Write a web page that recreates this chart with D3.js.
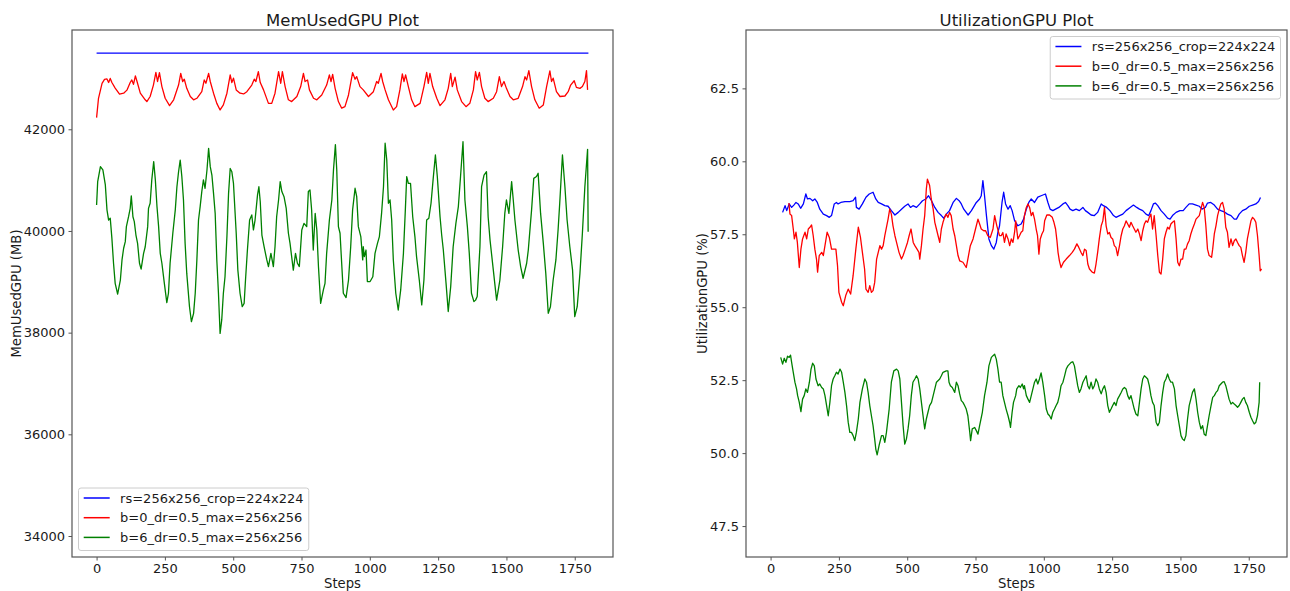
<!DOCTYPE html>
<meta charset="utf-8">
<style>
body { margin: 0; background: #fff; }
svg text { font-family: "DejaVu Sans", sans-serif; fill: #1a1a1a; }
.axis text { font-size: 13px; }
.axis line { stroke: #555; stroke-width: 1; }
.axis .domain { display: none; }
.frame { fill: none; stroke: #555; stroke-width: 1.2; }
.title { font-size: 16.5px; text-anchor: middle; }
.label { font-size: 13.2px; text-anchor: middle; }
.legend text { font-size: 13px; }
.series { fill: none; stroke-width: 1.3; stroke-linejoin: round; }
</style>
<svg width="1290" height="591"></svg>
<script src="https://d3js.org/d3.v7.min.js"></script>
<script>

var seriesNames = ["rs=256x256_crop=224x224", "b=0_dr=0.5_max=256x256", "b=6_dr=0.5_max=256x256"];
var seriesColors = ["#0000ff", "#ff0000", "#008000"];

var stepTicks = [0, 250, 500, 750, 1000, 1250, 1500, 1750];
var memTicks = [34000, 36000, 38000, 40000, 42000];
var utilTicks = [47.5, 50, 52.5, 55, 57.5, 60, 62.5];

// MemUsedGPU (MB) : [step, value]
var memBlue = [[0,43500],[1800,43500]];

var memRed = [[0,42230],[7,42610],[20,42905],[29,42980],[38,42990],[44,42920],[50,43000],[56,42920],[68,42810],[84,42690],[99,42710],[111,42770],[123,42920],[129,42970],[135,42885],[142,43050],[148,42940],[160,42710],[178,42580],[184,42545],[196,42645],[208,42870],[217,43120],[223,42940],[230,43115],[239,42840],[251,42610],[267,42465],[282,42580],[300,42870],[308,43100],[315,42940],[321,42985],[330,42805],[343,42645],[355,42580],[367,42610],[385,42740],[394,42970],[400,42905],[410,43100],[416,42940],[428,42710],[440,42510],[452,42380],[464,42480],[477,42710],[489,43070],[495,42920],[501,43005],[511,42775],[525,42710],[538,42695],[550,42740],[568,42870],[577,42985],[583,42940],[592,43135],[599,42920],[611,42775],[629,42510],[641,42510],[653,42710],[666,43135],[674,42905],[680,43135],[690,42840],[702,42580],[714,42545],[733,42645],[747,42840],[757,43100],[763,42940],[772,42970],[779,42775],[794,42610],[806,42580],[824,42675],[842,42870],[852,43070],[858,42940],[864,43080],[873,42805],[885,42545],[897,42415],[909,42445],[922,42675],[937,43115],[946,42985],[952,43035],[964,42840],[976,42775],[995,42645],[1013,42740],[1025,42940],[1031,42905],[1041,43100],[1047,42940],[1056,42775],[1068,42580],[1086,42380],[1098,42445],[1110,42775],[1119,43090],[1125,42940],[1131,43070],[1141,42840],[1153,42580],[1165,42445],[1184,42510],[1198,42840],[1208,43120],[1214,42905],[1220,43100],[1230,42840],[1245,42610],[1257,42465],[1275,42580],[1287,42805],[1296,43100],[1302,42840],[1312,43025],[1320,42775],[1336,42545],[1352,42445],[1366,42510],[1379,42775],[1387,43135],[1393,42970],[1401,43120],[1409,42840],[1421,42610],[1433,42545],[1452,42610],[1464,42740],[1474,43035],[1482,42840],[1491,42940],[1500,42805],[1513,42645],[1525,42580],[1543,42610],[1559,42840],[1568,43035],[1574,42970],[1582,43155],[1592,42840],[1604,42580],[1620,42415],[1635,42480],[1647,42840],[1659,43150],[1665,42940],[1671,43005],[1683,42740],[1696,42645],[1714,42655],[1726,42740],[1735,42870],[1748,42955],[1756,42825],[1769,42805],[1778,42840],[1787,42940],[1793,43155],[1797,42775]];

var memGreen = [[0,40510],[4,40970],[14,41265],[23,41200],[32,40905],[38,40415],[44,40215],[50,40250],[56,39855],[62,39365],[68,38970],[77,38760],[87,39035],[93,39430],[99,39660],[105,39790],[109,40085],[117,40280],[123,40445],[127,40690],[133,40280],[138,40185],[144,39920],[150,39755],[157,39365],[163,39250],[172,39560],[178,39690],[187,40085],[190,40445],[196,40545],[202,41005],[209,41365],[215,41005],[221,40480],[227,40085],[233,39560],[239,39365],[248,38970],[257,38590],[263,38775],[269,39365],[279,39955],[288,40415],[294,40870],[300,41165],[306,41395],[312,41070],[318,40610],[324,39755],[330,39165],[340,38510],[347,38215],[355,38380],[361,38775],[367,39430],[373,40215],[379,40480],[385,40775],[391,41005],[397,40840],[404,41200],[410,41625],[416,41265],[422,41100],[428,40740],[434,40345],[440,39430],[446,38775],[452,37985],[458,38250],[464,38775],[470,39100],[477,39890],[483,40740],[489,41230],[495,41165],[501,40935],[511,39955],[517,39230],[525,38775],[533,38510],[540,38575],[545,39035],[552,39625],[560,40215],[568,40315],[574,40020],[580,40215],[589,40710],[594,40870],[599,40575],[605,39920],[613,39690],[623,39430],[629,39300],[638,39560],[647,39300],[653,39690],[659,40280],[666,40610],[672,40970],[678,40775],[686,40675],[694,40445],[702,39955],[708,39755],[720,39230],[728,39560],[735,39365],[742,39300],[751,40020],[759,40150],[769,40085],[775,40775],[781,40805],[787,40415],[793,39625],[800,40345],[806,40020],[812,39300],[820,38575],[830,38840],[836,38970],[842,39560],[852,40215],[861,40610],[867,41200],[874,41700],[879,41200],[885,40085],[891,39955],[897,39365],[903,38775],[913,38690],[922,39035],[930,39690],[937,40415],[946,40840],[952,40675],[958,40085],[967,39890],[974,39430],[976,39690],[980,39495],[986,39625],[991,39005],[1001,39005],[1011,39100],[1019,39560],[1028,39755],[1035,39890],[1043,40345],[1050,40870],[1056,41725],[1062,41395],[1068,40545],[1074,40610],[1080,40215],[1086,39430],[1095,38775],[1104,38445],[1113,38840],[1123,39560],[1130,40415],[1135,41070],[1141,40935],[1149,40935],[1157,40280],[1165,39890],[1171,39495],[1181,39035],[1190,38545],[1198,39035],[1208,40215],[1216,40250],[1224,40545],[1232,41035],[1240,41495],[1247,41070],[1257,40280],[1263,39920],[1269,39625],[1279,38970],[1287,38415],[1296,38905],[1305,39690],[1315,40150],[1324,40480],[1332,41070],[1341,41755],[1348,40610],[1357,40085],[1364,39560],[1372,38775],[1381,38610],[1387,38640],[1393,38710],[1403,39690],[1409,40870],[1418,41100],[1427,41165],[1433,40280],[1440,39820],[1452,39230],[1464,38640],[1476,39035],[1486,39690],[1494,40345],[1500,40610],[1509,40345],[1519,40970],[1525,40610],[1531,40215],[1543,39625],[1552,39300],[1561,39070],[1574,39365],[1580,39625],[1592,40415],[1600,41035],[1610,41070],[1616,41135],[1625,40345],[1635,39755],[1644,39165],[1653,38380],[1661,38510],[1671,39035],[1681,39430],[1689,40020],[1695,40545],[1705,41495],[1714,40870],[1722,40215],[1732,39690],[1742,39230],[1750,38315],[1759,38510],[1769,39165],[1778,39955],[1787,40870],[1797,41605],[1799,39985]];

// UtilizationGPU (%) : [step, value]
var utilBlue = [[44,58.25],[53,58.48],[59,58.31],[68,58.54],[77,58.42],[85,58.50],[93,58.59],[101,58.54],[110,58.39],[120,58.54],[129,58.88],[135,58.71],[144,58.73],[154,58.65],[162,58.71],[171,58.59],[180,58.36],[193,58.19],[205,58.14],[215,58.08],[223,58.14],[233,58.54],[241,58.59],[247,58.54],[257,58.59],[272,58.62],[290,58.62],[302,58.65],[311,58.77],[314,58.42],[324,58.36],[336,58.54],[349,58.77],[361,58.88],[375,58.94],[385,58.71],[394,58.59],[406,58.54],[418,58.48],[430,58.46],[442,58.31],[455,58.16],[467,58.25],[479,58.36],[491,58.46],[503,58.54],[512,58.42],[521,58.48],[534,58.42],[546,58.54],[556,58.65],[568,58.71],[578,58.82],[589,58.65],[601,58.42],[613,58.25],[625,58.14],[634,58.05],[643,58.19],[655,58.31],[668,58.59],[680,58.73],[690,58.65],[698,58.54],[707,58.36],[723,58.16],[735,58.31],[753,58.59],[765,58.71],[771,58.82],[777,59.34],[783,58.82],[790,58.14],[799,57.34],[808,57.11],[817,56.99],[826,57.22],[832,57.57],[838,57.79],[847,58.59],[853,58.94],[860,58.54],[869,58.36],[877,58.48],[884,58.31],[893,57.97],[905,57.79],[917,57.85],[926,58.02],[936,58.36],[945,58.59],[954,58.71],[966,58.59],[978,58.77],[990,58.82],[1006,58.88],[1015,58.59],[1023,58.36],[1033,58.31],[1043,58.36],[1055,58.42],[1070,58.54],[1079,58.59],[1088,58.48],[1096,58.36],[1106,58.31],[1118,58.36],[1130,58.31],[1143,58.42],[1152,58.31],[1161,58.25],[1173,58.16],[1185,58.14],[1197,58.25],[1210,58.54],[1218,58.48],[1230,58.42],[1242,58.31],[1255,58.14],[1264,58.08],[1277,58.14],[1289,58.19],[1301,58.31],[1316,58.42],[1328,58.50],[1340,58.42],[1350,58.36],[1362,58.31],[1374,58.19],[1384,58.14],[1392,58.31],[1401,58.54],[1408,58.57],[1417,58.48],[1429,58.31],[1441,58.19],[1453,58.05],[1462,58.02],[1471,58.14],[1484,58.25],[1498,58.31],[1510,58.31],[1520,58.42],[1532,58.54],[1544,58.54],[1557,58.50],[1569,58.46],[1579,58.36],[1591,58.42],[1599,58.57],[1611,58.59],[1624,58.50],[1636,58.36],[1648,58.31],[1660,58.27],[1672,58.19],[1685,58.14],[1697,58.02],[1705,58.02],[1715,58.19],[1727,58.31],[1739,58.36],[1752,58.46],[1764,58.50],[1776,58.54],[1786,58.62],[1793,58.76]];

var utilRed = [[67,58.57],[71,58.19],[77,58.14],[83,57.68],[87,57.34],[93,57.57],[98,57.22],[105,56.36],[111,56.99],[117,57.34],[126,57.57],[132,57.34],[138,57.68],[144,57.74],[150,57.82],[156,57.45],[162,56.99],[168,56.65],[172,56.20],[178,56.77],[187,56.88],[193,56.77],[199,57.11],[207,57.57],[215,57.39],[223,56.99],[239,56.99],[245,56.42],[250,55.51],[260,55.17],[266,55.05],[275,55.40],[284,55.62],[293,55.45],[302,56.08],[312,56.99],[321,57.74],[329,57.39],[336,56.88],[344,56.31],[349,55.62],[357,55.51],[363,55.74],[369,55.51],[375,55.57],[381,55.85],[388,56.65],[394,56.88],[400,57.11],[406,56.99],[412,57.11],[418,57.45],[430,58.02],[436,58.36],[442,58.19],[448,57.79],[455,57.45],[461,57.22],[470,56.88],[479,56.65],[485,56.77],[493,56.99],[501,57.22],[507,57.45],[514,57.68],[522,57.22],[528,57.11],[536,56.99],[543,56.88],[546,56.65],[552,57.11],[558,57.68],[564,58.14],[570,59.05],[574,59.39],[582,59.17],[588,58.71],[595,58.36],[601,57.91],[607,57.68],[613,57.45],[619,57.22],[625,57.68],[631,57.91],[637,58.08],[643,58.19],[649,58.08],[655,58.25],[661,58.14],[668,57.68],[674,57.45],[680,57.11],[686,56.77],[692,56.59],[704,56.54],[716,56.36],[722,56.65],[731,57.11],[741,57.34],[750,57.68],[759,58.02],[765,57.85],[771,57.68],[780,57.62],[787,57.62],[795,57.45],[804,57.39],[814,57.68],[820,58.14],[828,57.79],[838,57.45],[844,57.45],[850,57.56],[856,57.22],[862,57.51],[869,57.34],[875,57.11],[881,57.34],[887,57.22],[893,57.57],[897,57.96],[905,57.34],[911,57.45],[917,57.57],[923,57.62],[929,58.14],[936,58.42],[942,58.54],[948,58.42],[954,58.14],[960,58.25],[966,58.02],[972,57.68],[977,57.45],[982,56.82],[987,57.34],[993,57.51],[999,57.62],[1003,57.96],[1011,58.16],[1021,58.16],[1031,58.08],[1037,57.91],[1043,57.68],[1048,57.28],[1052,56.88],[1057,56.59],[1063,56.36],[1072,56.54],[1082,56.65],[1094,56.77],[1104,56.88],[1112,56.99],[1121,57.17],[1128,57.05],[1136,56.88],[1143,56.77],[1149,56.99],[1155,56.94],[1161,56.48],[1167,56.31],[1177,56.20],[1185,56.17],[1191,56.48],[1197,56.88],[1203,57.34],[1210,57.79],[1216,57.96],[1222,58.42],[1228,57.79],[1234,57.51],[1240,57.56],[1246,57.39],[1252,57.34],[1258,57.11],[1264,57.05],[1270,56.77],[1277,57.11],[1283,57.45],[1289,57.68],[1295,57.79],[1301,57.96],[1307,57.85],[1313,57.74],[1319,57.91],[1325,57.79],[1331,57.68],[1337,57.57],[1344,57.68],[1350,57.51],[1356,57.28],[1362,57.62],[1368,57.85],[1374,57.96],[1380,57.91],[1386,58.08],[1392,58.19],[1398,57.68],[1404,58.14],[1411,57.45],[1417,56.77],[1423,56.20],[1429,56.14],[1435,56.65],[1441,57.34],[1447,57.57],[1453,57.74],[1459,57.68],[1465,57.85],[1471,57.91],[1478,57.96],[1484,57.34],[1490,56.54],[1496,56.42],[1502,56.65],[1508,56.65],[1514,56.99],[1520,56.99],[1526,57.17],[1532,57.28],[1538,57.51],[1544,57.68],[1551,57.85],[1557,58.02],[1569,58.14],[1575,58.36],[1581,58.59],[1587,58.42],[1593,57.79],[1599,56.99],[1605,56.77],[1614,56.71],[1618,56.99],[1624,57.51],[1630,57.79],[1636,58.14],[1642,58.36],[1648,58.54],[1654,58.59],[1660,58.36],[1666,57.74],[1672,57.57],[1678,57.05],[1685,57.34],[1691,57.11],[1697,57.28],[1703,57.34],[1709,57.22],[1715,57.11],[1721,57.05],[1727,56.77],[1733,56.54],[1739,56.88],[1745,57.34],[1752,57.68],[1758,57.96],[1764,58.08],[1770,58.02],[1776,57.91],[1782,57.45],[1788,56.77],[1792,56.25],[1797,56.31]];

var utilGreen = [[37,53.28],[44,53.05],[50,53.25],[56,53.11],[62,53.32],[68,53.28],[73,53.36],[77,53.11],[81,52.88],[89,52.43],[95,52.20],[99,51.97],[105,51.74],[111,51.42],[117,51.85],[123,51.97],[129,52.20],[135,52.08],[142,52.43],[148,52.88],[154,53.08],[160,52.99],[166,52.54],[174,52.31],[180,52.37],[187,52.25],[193,52.20],[199,51.97],[205,51.63],[211,51.28],[217,51.74],[223,52.31],[229,52.54],[235,52.65],[241,52.77],[247,52.71],[254,52.88],[260,52.77],[266,52.43],[272,52.08],[278,51.63],[284,51.06],[290,50.71],[296,50.71],[302,50.60],[308,50.43],[314,50.71],[321,51.17],[327,51.74],[336,52.20],[345,52.54],[351,52.43],[357,52.08],[363,51.63],[369,51.28],[375,50.94],[381,50.48],[385,50.14],[390,49.94],[397,50.26],[406,50.60],[412,50.60],[418,50.37],[424,50.71],[434,51.51],[442,52.43],[451,52.82],[461,52.88],[467,52.82],[473,52.54],[479,51.74],[485,50.94],[491,50.31],[497,50.48],[503,50.83],[509,51.28],[515,51.97],[521,52.43],[528,52.54],[534,52.65],[540,52.54],[546,52.20],[552,51.74],[558,51.28],[564,50.83],[570,51.17],[576,51.40],[582,51.63],[589,51.74],[595,51.97],[601,52.20],[607,52.43],[619,52.54],[625,52.65],[631,52.77],[643,52.82],[649,52.82],[653,52.43],[658,52.31],[665,52.25],[674,52.08],[680,52.43],[686,52.31],[692,52.03],[698,51.80],[704,51.74],[710,51.63],[716,51.51],[722,51.28],[729,50.71],[732,50.43],[738,50.83],[747,50.88],[753,50.77],[759,50.65],[765,50.94],[775,51.40],[783,51.97],[792,52.43],[799,52.99],[808,53.28],[814,53.34],[820,53.39],[826,53.22],[832,52.88],[838,52.43],[844,52.43],[850,51.97],[856,51.74],[862,51.51],[869,51.28],[875,51.05],[878,50.88],[884,51.40],[889,51.74],[897,51.97],[901,52.20],[909,52.31],[914,52.25],[921,52.37],[926,52.20],[929,52.31],[936,51.97],[942,51.85],[948,51.74],[954,51.97],[960,52.20],[966,52.43],[972,52.54],[978,52.37],[984,52.54],[990,52.75],[996,52.43],[1003,51.97],[1009,51.51],[1015,51.34],[1021,51.28],[1027,51.17],[1033,51.40],[1039,51.51],[1045,51.63],[1051,51.74],[1057,51.97],[1063,52.31],[1070,52.43],[1076,52.65],[1082,52.88],[1088,52.99],[1094,53.05],[1100,53.11],[1106,53.13],[1112,52.99],[1118,52.65],[1124,52.31],[1130,52.08],[1136,52.20],[1143,52.43],[1149,52.54],[1155,52.65],[1161,52.31],[1167,52.20],[1173,52.43],[1179,52.20],[1185,52.31],[1191,52.54],[1197,52.43],[1203,52.20],[1210,52.03],[1216,52.20],[1222,52.31],[1228,52.08],[1234,51.63],[1240,51.40],[1246,51.51],[1252,51.63],[1258,51.74],[1264,51.63],[1270,51.85],[1277,51.97],[1283,52.08],[1289,52.20],[1295,52.25],[1301,52.20],[1307,51.97],[1313,51.85],[1319,51.97],[1325,51.74],[1331,51.51],[1337,51.34],[1344,51.28],[1350,51.74],[1356,52.20],[1362,52.54],[1368,52.65],[1374,52.60],[1380,52.54],[1386,52.31],[1392,51.97],[1398,51.74],[1404,51.63],[1411,51.06],[1417,50.94],[1423,51.06],[1429,51.63],[1435,52.08],[1441,52.43],[1447,52.54],[1453,52.71],[1459,52.54],[1465,52.43],[1471,52.43],[1478,52.20],[1484,51.63],[1490,51.28],[1496,50.94],[1502,50.60],[1508,50.48],[1514,50.43],[1520,50.60],[1526,51.17],[1532,51.63],[1538,51.85],[1544,52.08],[1551,52.20],[1557,51.85],[1563,51.40],[1569,51.06],[1575,50.83],[1581,50.94],[1587,50.65],[1593,50.60],[1599,50.94],[1605,51.28],[1612,51.63],[1618,51.91],[1624,51.97],[1630,52.08],[1636,52.14],[1642,52.31],[1648,52.37],[1654,52.43],[1660,52.45],[1666,52.31],[1672,52.08],[1678,51.85],[1685,51.68],[1691,51.74],[1697,51.68],[1703,51.63],[1709,51.57],[1715,51.63],[1721,51.74],[1727,51.85],[1733,51.91],[1739,51.74],[1745,51.63],[1752,51.40],[1758,51.23],[1764,51.11],[1770,51.00],[1776,51.06],[1782,51.28],[1788,51.74],[1790,52.43]];

var svg = d3.select("svg");
svg.append("rect").attr("width", 1290).attr("height", 591).attr("fill", "#fff");

var plotTop = 30, plotBottom = 557;

function panel(o) {
  var x = d3.scaleLinear().domain([-90, 1890]).range([o.left, o.right]);
  var y = d3.scaleLinear().domain(o.yDomain).range([plotBottom, plotTop]);
  var g = svg.append("g");

  g.append("g")
      .attr("class", "axis")
      .attr("transform", "translate(0," + plotBottom + ")")
      .call(d3.axisBottom(x).tickValues(stepTicks).tickSize(3.5).tickSizeOuter(0).tickPadding(3.5).tickFormat(d3.format("d")));

  g.append("g")
      .attr("class", "axis")
      .attr("transform", "translate(" + o.left + ",0)")
      .call(d3.axisLeft(y).tickValues(o.yTicks).tickSize(3.5).tickSizeOuter(0).tickPadding(3.5).tickFormat(o.fmt));

  g.selectAll(".axis text").attr("fill", "#1a1a1a").attr("font-family", null).attr("font-size", null);

  var line = d3.line()
      .x(function(d) { return x(d[0]); })
      .y(function(d) { return y(d[1]); });

  o.series.forEach(function(s, i) {
    g.append("path")
        .datum(s)
        .attr("class", "series")
        .attr("stroke", seriesColors[i])
        .attr("d", line);
  });

  g.append("rect")
      .attr("class", "frame")
      .attr("x", o.left).attr("y", plotTop)
      .attr("width", o.right - o.left).attr("height", plotBottom - plotTop);

  g.append("text")
      .attr("class", "title")
      .attr("x", (o.left + o.right) / 2)
      .attr("y", 26)
      .text(o.title);

  g.append("text")
      .attr("class", "label")
      .attr("x", (o.left + o.right) / 2)
      .attr("y", 588)
      .text("Steps");

  g.append("text")
      .attr("class", "label")
      .attr("transform", "translate(" + o.ylabelX + "," + ((plotTop + plotBottom) / 2) + ") rotate(-90)")
      .text(o.ylabel);

  // legend
  var lg = g.append("g").attr("class", "legend");
  var box = lg.append("rect")
      .attr("fill", "#fff").attr("fill-opacity", 0.8)
      .attr("stroke", "#cccccc").attr("stroke-width", 1)
      .attr("rx", 2.5);
  var texts = lg.selectAll("text").data(seriesNames).enter().append("text").text(function(d) { return d; });
  var tw = d3.max(texts.nodes(), function(n) { return n.getComputedTextLength(); });
  var w = 5.2 + 26 + 10.4 + tw + 5.2, h = 62.5;
  var bx = o.legendTop ? o.right - 6.5 - w : o.left + 6.5;
  var by = o.legendTop ? plotTop + 6.5 : plotBottom - 6.5 - h;
  box.attr("x", bx).attr("y", by).attr("width", w).attr("height", h);
  seriesNames.forEach(function(n, i) {
    var cy = by + 10 + i * 19.7;
    lg.append("line")
        .attr("x1", bx + 5.2).attr("x2", bx + 31.2)
        .attr("y1", cy).attr("y2", cy)
        .attr("stroke", seriesColors[i]).attr("stroke-width", 1.5);
  });
  texts.attr("x", bx + 41.6)
      .attr("y", function(d, i) { return by + 10 + i * 19.7; })
      .attr("dy", "0.36em");
}

panel({
  left: 72, right: 613,
  yDomain: [33587, 43953], yTicks: memTicks, fmt: d3.format("d"),
  title: "MemUsedGPU Plot", ylabel: "MemUsedGPU (MB)", ylabelX: 20.5,
  series: [memBlue, memRed, memGreen], legendTop: false
});

panel({
  left: 746, right: 1287,
  yDomain: [46.44, 64.5], yTicks: utilTicks, fmt: d3.format(".1f"),
  title: "UtilizationGPU Plot", ylabel: "UtilizationGPU (%)", ylabelX: 707,
  series: [utilBlue, utilRed, utilGreen], legendTop: true
});

</script>
